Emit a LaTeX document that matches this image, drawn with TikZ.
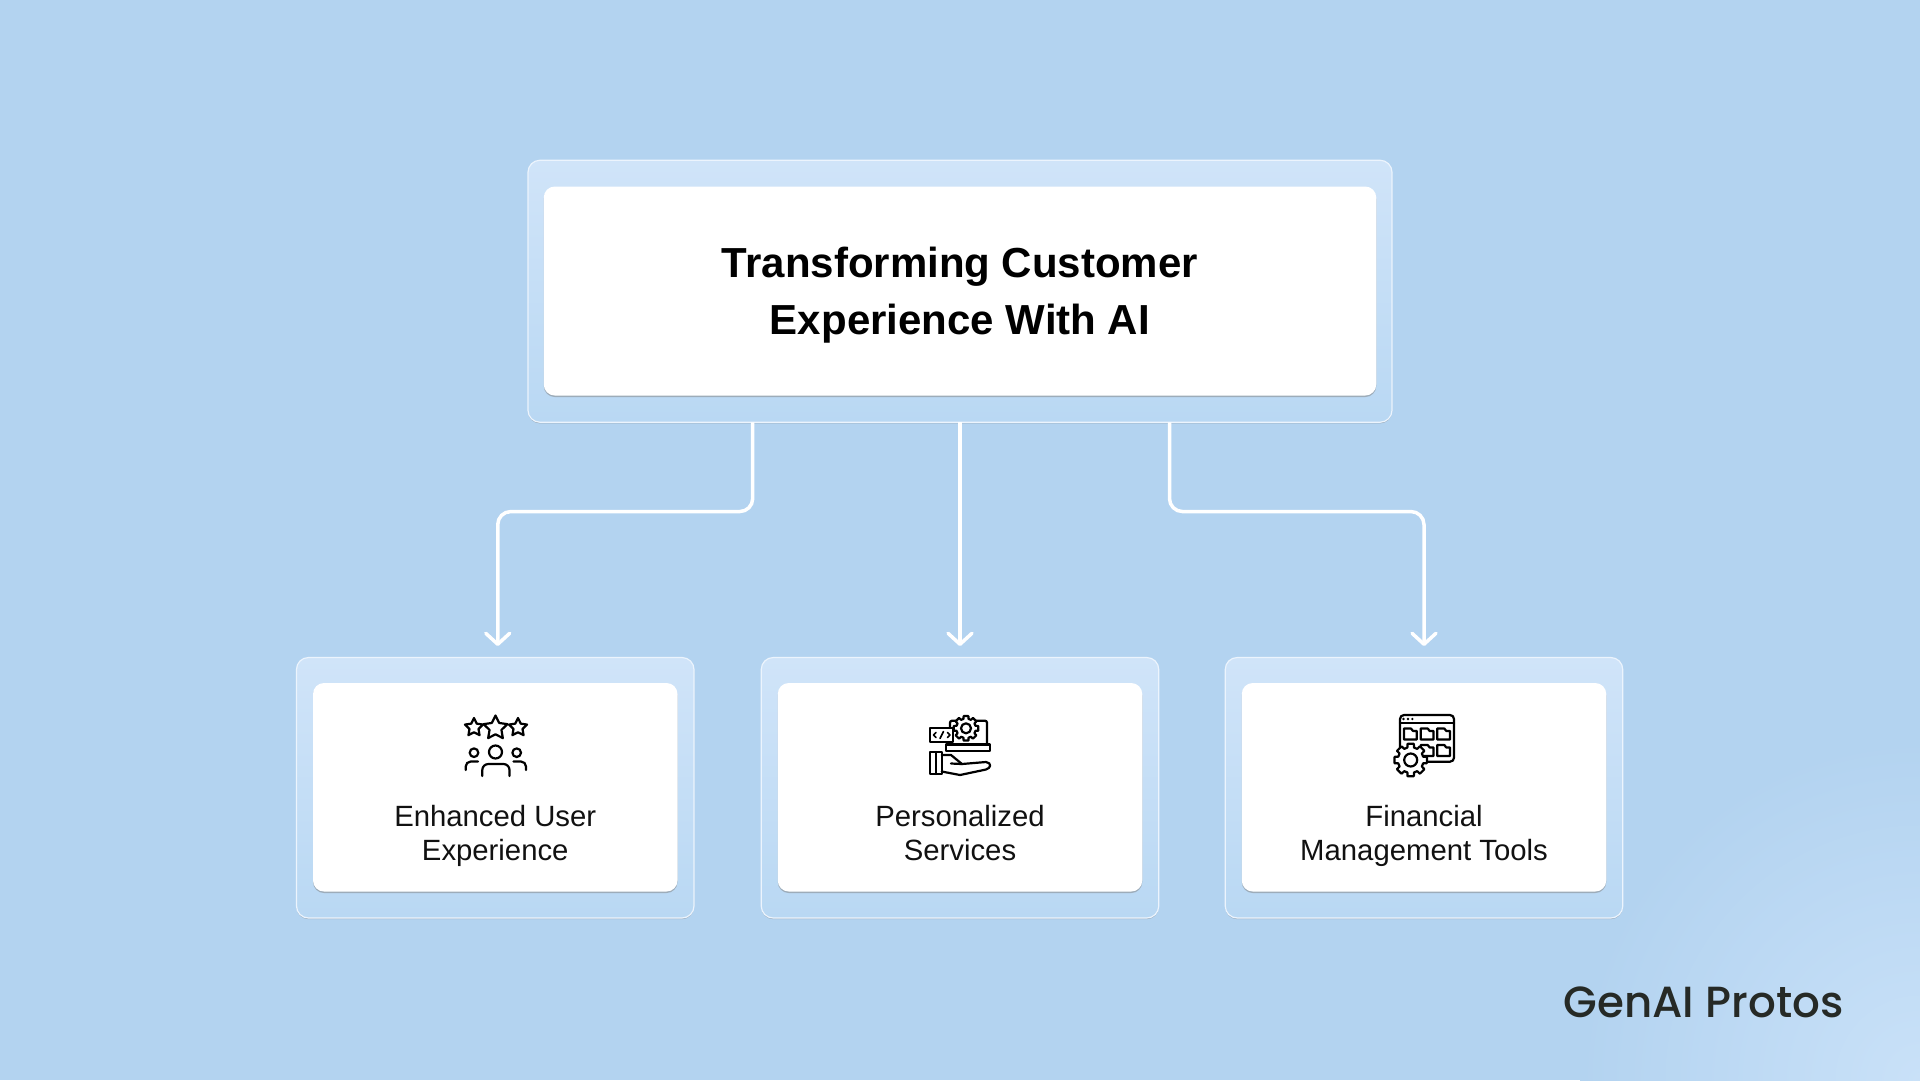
\documentclass[tikz,border=0pt]{standalone}
\usepackage{xcolor}
\usepackage{fontspec}
\usepackage{tikz}
\usetikzlibrary{arrows.meta,positioning,shadows}
\setmainfont{Liberation Sans}
\newfontfamily\logofont{Poppins Medium}

\definecolor{pagebg}{HTML}{B3D3F0}
\definecolor{pagelight}{HTML}{C9E1F8}
\definecolor{boxtop}{HTML}{D0E4F9}
\definecolor{boxbottom}{HTML}{B9D8F3}
\definecolor{inkdark}{HTML}{111111}
\definecolor{logoink}{HTML}{262A26}

\newcommand{\drawstar}[3]{
    \begin{scope}[shift={(#1,#2)}]
        \draw[iconline] (-90:#3)
            \foreach \a in {-90,-18,54,126,198} {
                -- (\a:#3) -- ({\a+36}:{0.5*#3})
            } -- cycle;
    \end{scope}
}
\newcommand{\drawgear}[4]{
    \begin{scope}[shift={(#1,#2)}]
        \draw[iconline, fill=white] (-11:#3)
            \foreach \a in {0,45,...,315} {
                -- ({\a-11}:#3) -- ({\a+11}:#3)
                -- ({\a+15}:{0.78*#3}) -- ({\a+30}:{0.78*#3})
            } -- cycle;
        \draw[iconline] (0,0) circle (#4);
    \end{scope}
}

\begin{document}
\begin{tikzpicture}[
    x=1pt, y=-1pt,
    outerbox/.style={rectangle, draw=white!60!boxtop, line width=1.2pt, rounded corners=12pt, outer sep=0pt, top color=boxtop, bottom color=boxbottom, drop shadow={shadow xshift=0pt, shadow yshift=-1.2pt, opacity=0.45, fill=gray}},
    whitecard/.style={rectangle, fill=white, rounded corners=11pt, outer sep=0pt, drop shadow={shadow xshift=0pt, shadow yshift=-1.5pt, opacity=0.5, fill=gray}},
    caption/.style={align=center, text=inkdark, inner sep=0pt, font=\fontsize{29.3}{33.6}\selectfont},
    link/.style={draw=white, line width=3.5pt, rounded corners=13pt, -{Straight Barb[length=11pt,width=24pt,round]}},
    iconline/.style={draw=black, line width=2.2pt, line join=round, line cap=round}
]
    \useasboundingbox (0,0) rectangle (1920,1080);

    % Background
    \fill[pagebg] (0,0) rectangle (1920,1080);
    \begin{scope}
        \clip (0,0) rectangle (1920,1080);
        \shade[inner color=pagelight, outer color=pagebg] (1920,1080) circle (340);
    \end{scope}

    % Title
    \node[outerbox, minimum width=864, minimum height=262] (titlebox) at (960,291.25) {};
    \node[whitecard, minimum width=832.5, minimum height=209] (titlecard) at (960,291) {};
    \node[align=center, text=black, inner sep=0pt, font=\fontsize{42}{57.5}\selectfont\bfseries] (titlelabel) at (960,295) {Transforming Customer\\Experience With AI};

    % Three boxes
    \foreach \name/\x/\txt in {enh/495.25/{\strut Enhanced User\\\strut Experience}, per/960/{\strut Personalized\\\strut Services}, fin/1424/{\strut Financial\\\strut Management Tools}} {
        \node[outerbox, minimum width=397.5, minimum height=260.5] (\name box) at (\x,787.75) {};
        \node[whitecard, minimum width=364.5, minimum height=208.5] (\name card) at (\x,787.25) {};
        \node[caption] (\name label) at (\x,836.5) {\txt};
    }

    % Connectors
    \draw[link] ([xshift=-207.3pt]titlebox.south) -- ++(0,89.3) -| ([xshift=2.5pt,yshift=11.5pt]enhbox.north);
    \draw[link] (titlebox.south) -- ([yshift=11.5pt]perbox.north);
    \draw[link] ([xshift=209.5pt]titlebox.south) -- ++(0,89.3) -| ([yshift=11.5pt]finbox.north);

    % Icon: stars and people
    \drawstar{474}{727.5}{9.5}
    \drawstar{495.5}{728}{12.5}
    \drawstar{518}{727.5}{9.5}
    \draw[iconline] (495.5,752) circle (6.5);
    \draw[iconline] (474,752.7) circle (4.3);
    \draw[iconline] (516.7,752.7) circle (4.3);
    \draw[iconline, rounded corners=6pt] (482.3,776) -- (482.3,764) -- (509.5,764) -- (509.5,776);
    \draw[iconline, rounded corners=5pt] (465.7,770) -- (465.7,761.5) -- (478,761.5);
    \draw[iconline, rounded corners=5pt] (526,770) -- (526,761.5) -- (513.5,761.5);

    % Icon: hand and laptop
    \draw[iconline, rounded corners=2pt] (950,741) -- (950,720.7) -- (987,720.7) -- (987,743.5);
    \draw[iconline] (946,744.5) rectangle (990,750.7);
    \drawgear{966}{728.3}{12.5}{5}
    \draw[iconline, fill=white] (930,728.3) rectangle (953.3,741.7);
    \draw[iconline, line width=1.6pt] (936,732.5) -- (933.5,735) -- (936,737.5)
        (947.5,732.5) -- (950,735) -- (947.5,737.5)
        (943.5,731.5) -- (940,738.5);
    \draw[iconline] (930,752.3) rectangle (941.7,774) (936,752.3) -- (936,774);
    \draw[iconline] (941.7,755) -- (951,755) -- (962,764) -- (986,762) .. controls (992,763) and (991,768) .. (986,769.5) -- (960,775) -- (941.7,771.5);
    \draw[iconline] (951,763.5) -- (962,764);

    % Icon: window and gear
    \draw[iconline, rounded corners=4pt] (1400,750) -- (1400,715) -- (1454,715) -- (1454,761.7) -- (1425,761.7);
    \draw[iconline] (1400,723.3) -- (1454,723.3);
    \foreach \dotx in {1403.5,1408,1412.3} {
        \fill[black] (\dotx,719) circle (1.3);
    }
    \foreach \fx/\fy in {1404/728.5, 1420.7/728.5, 1437.3/728.5, 1437.3/745, 1420.7/745} {
        \draw[iconline] (\fx,\fy) -- ++(7,0) -- ++(2,2.5) -- ++(3.7,0) -- ++(0,8.5) -- ++(-12.7,0) -- cycle;
    }
    \drawgear{1410.7}{760}{16.5}{6.5}

    % Logo
    \node[logoink, inner sep=0pt, font=\logofont\fontsize{43.6}{44}\selectfont] (logotext) at (1703.5,1002) {GenAI Protos};
\end{tikzpicture}
\end{document}
